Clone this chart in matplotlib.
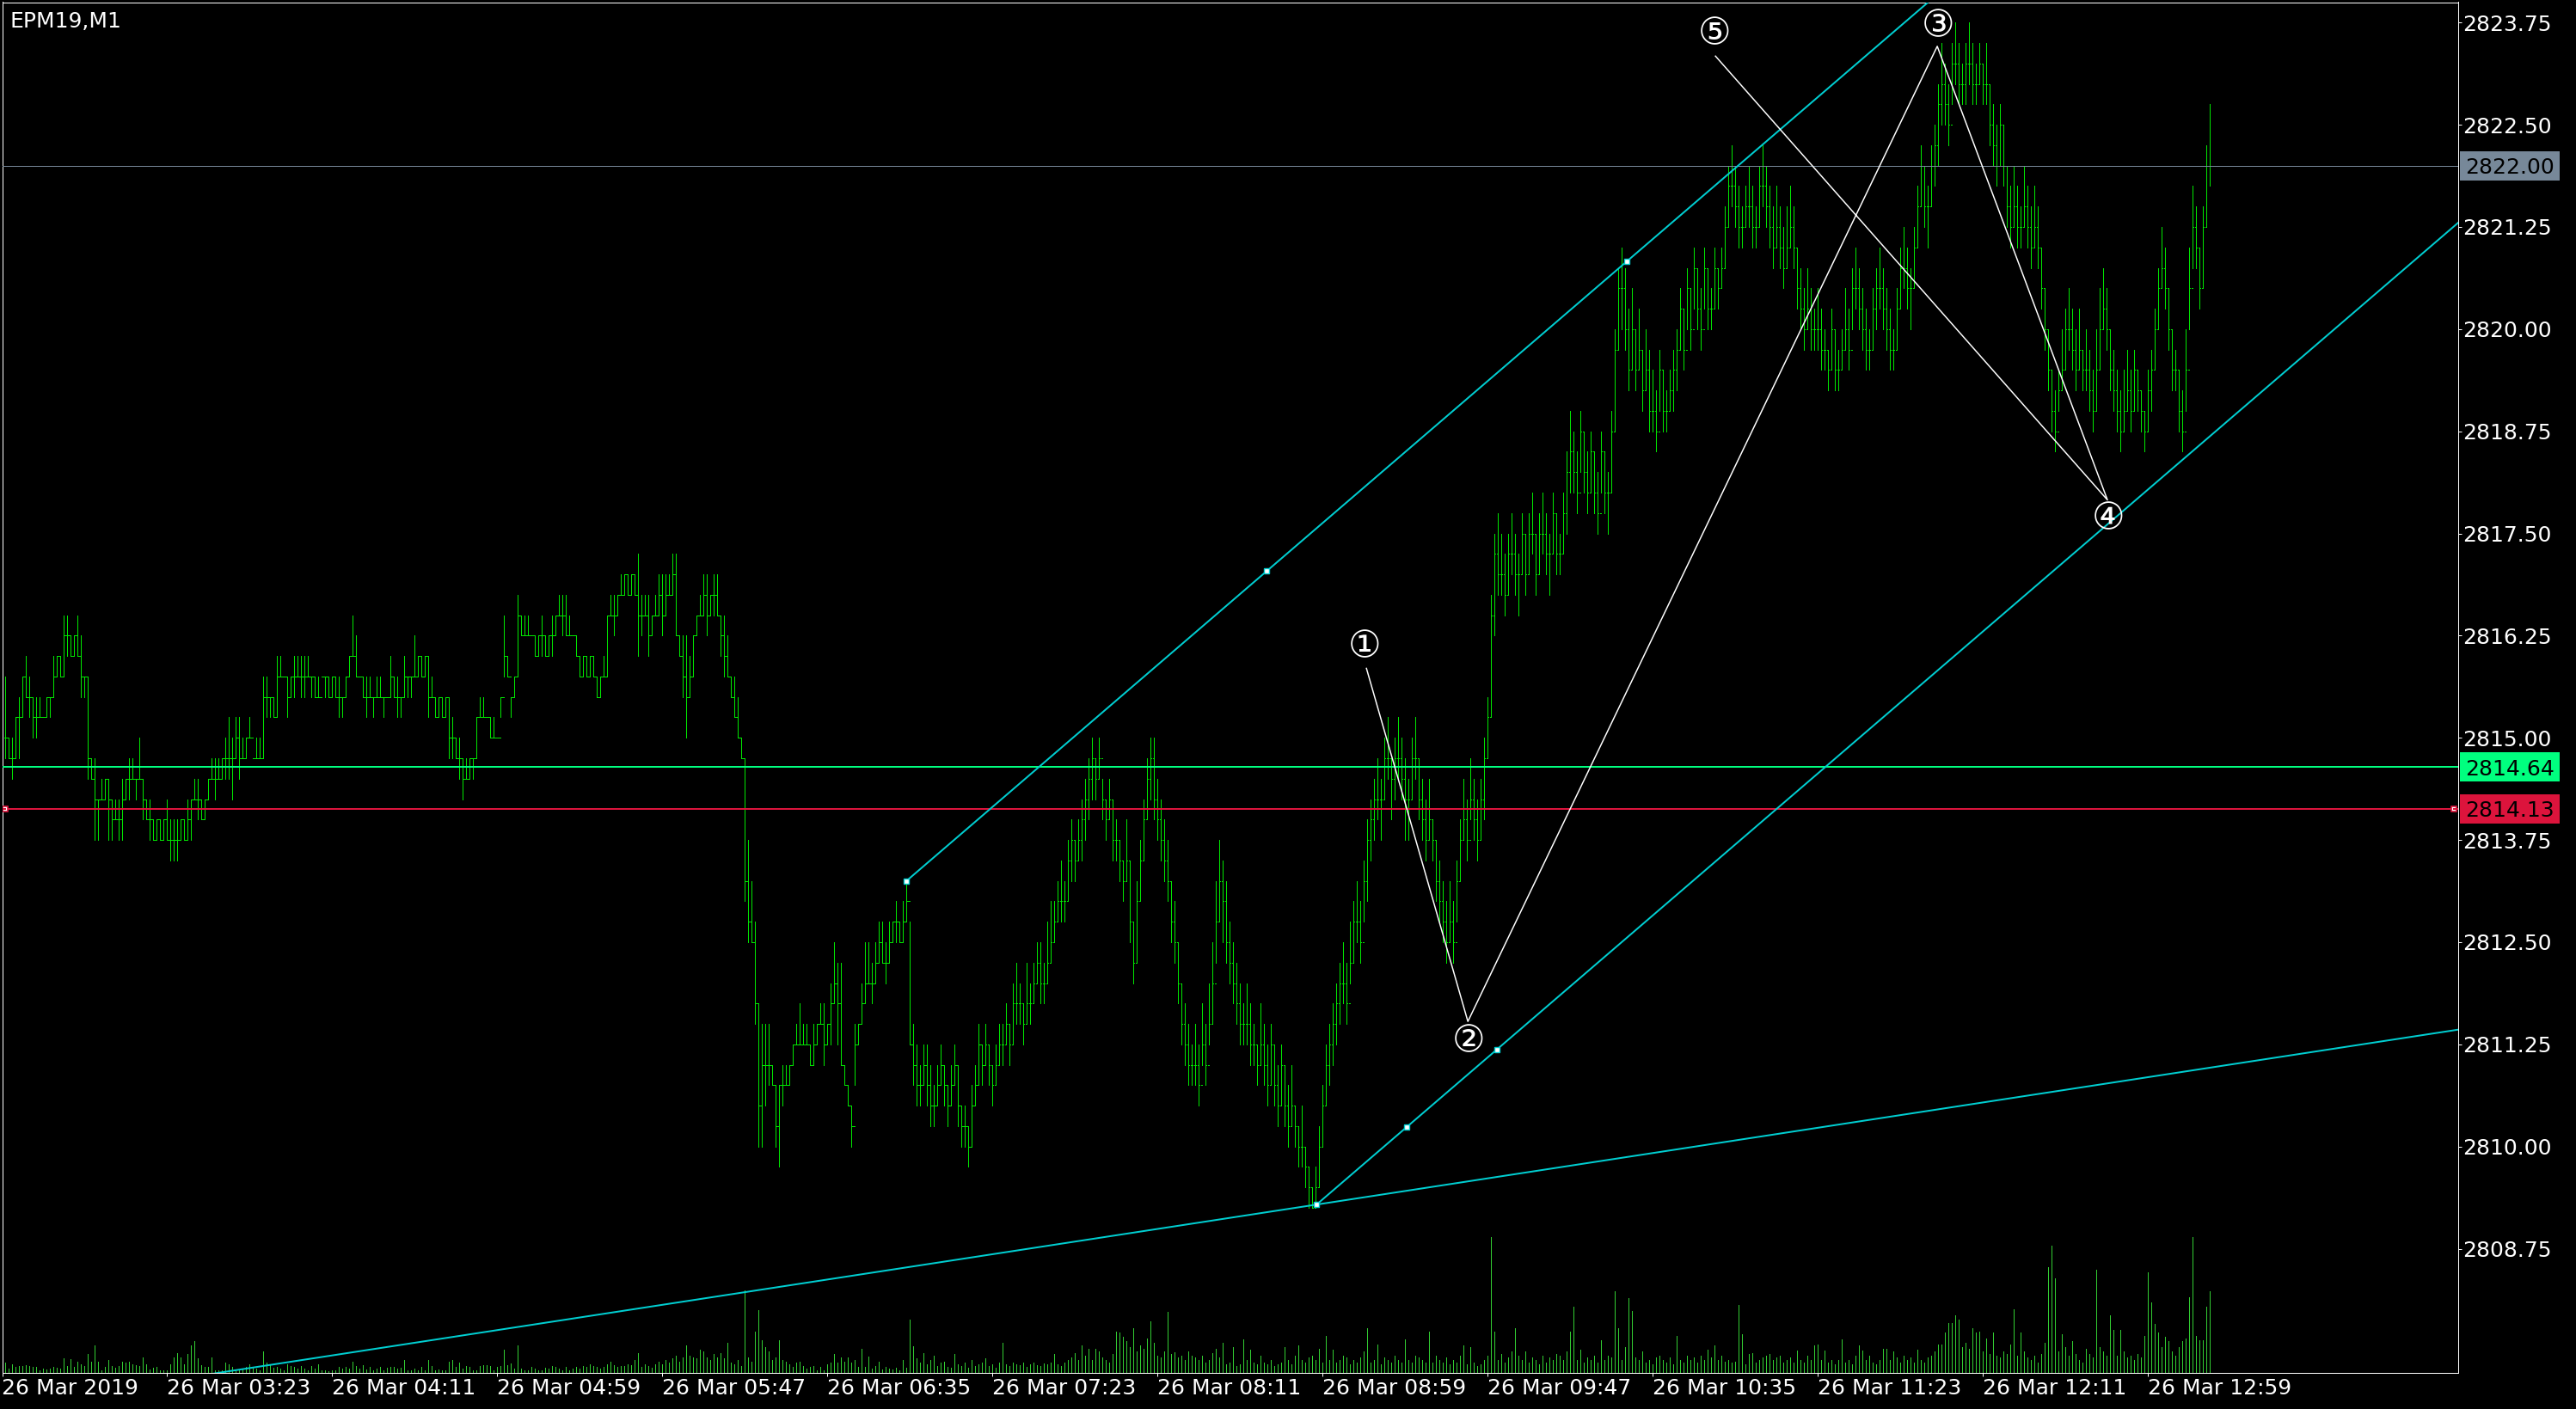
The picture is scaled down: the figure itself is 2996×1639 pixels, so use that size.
import matplotlib
matplotlib.use("Agg")
import matplotlib.pyplot as plt
import numpy as np
from matplotlib.patches import Rectangle
from matplotlib.transforms import blended_transform_factory

# ---------------- data (prices in ticks of 0.25 above 2800) ----------------
SYMBOL = "EPM19,M1"
BASE, TICK = 2800.0, 0.25
OPEN0 = 60
HIGH_T = [
63,60,60,61,62,63,64,63,62,62, 62,61,62,62,64,64,64,66,66,65, 65,66,65,63,63,59,59,57,58,58,
58,57,57,57,58,58,59,59,58,60, 58,57,57,56,56,56,56,57,56,56, 56,56,56,57,57,58,58,57,57,58,
59,59,59,59,60,61,60,61,61,60, 60,61,59,60,60,63,63,62,62,64, 64,63,63,63,64,64,64,64,64,63,
63,63,63,63,63,63,63,63,62,63, 64,66,65,63,63,63,63,62,63,63, 62,62,64,63,63,62,64,63,63,65,
64,64,64,64,63,62,62,62,62,62, 61,60,60,59,59,59,59,61,62,62, 61,61,61,60,62,66,64,62,63,67,
66,66,66,65,65,65,66,65,65,66, 66,67,67,67,66,65,65,64,64,64, 64,64,63,63,64,66,67,67,67,68,
68,68,68,68,69,67,67,67,66,67, 68,68,68,68,69,69,65,65,65,64, 65,66,67,68,68,67,68,68,66,66,
65,63,63,62,60,59,55,53,51,47, 46,46,46,44,43,43,44,44,44,45, 46,47,46,46,45,46,46,47,47,46,
48,50,49,49,44,43,42,46,46,48, 50,50,49,50,51,51,50,51,51,52, 51,52,53,51,46,45,44,45,45,44,
43,44,45,44,43,44,45,44,42,42, 41,43,44,46,45,46,45,44,45,46, 46,47,46,48,49,48,47,49,48,49,
50,50,49,51,52,52,53,54,53,55, 56,55,56,57,58,59,60,59,60,58, 57,58,57,56,55,54,56,54,51,53,
55,57,59,60,60,58,57,56,55,53, 52,50,48,47,46,45,46,45,47,46, 48,50,53,55,54,53,51,50,49,48,
47,48,47,46,45,47,46,45,46,45, 44,45,44,43,44,42,41,42,40,39, 38,39,41,43,45,46,47,48,49,50,
49,51,52,53,52,54,56,57,58,59, 58,60,61,59,60,61,60,59,58,60, 61,59,58,57,58,56,55,54,53,52,
53,52,54,56,58,57,59,58,57,58, 60,62,67,70,71,70,69,70,71,70, 69,71,70,71,72,70,71,72,71,70,
72,71,70,72,74,76,75,74,76,75, 74,75,74,73,75,74,73,76,80,83, 84,83,81,82,80,81,79,80,79,78,
77,79,78,77,78,79,80,82,81,83, 82,84,83,82,84,83,82,84,83,84, 86,88,89,88,87,86,87,88,87,86,
88,89,88,87,86,87,86,85,86,87, 86,84,83,82,83,82,81,82,81,80, 79,81,80,79,80,82,81,83,84,83,
82,81,80,82,83,84,83,82,81,80, 82,84,85,84,83,85,87,89,88,87, 89,90,92,94,93,92,94,95,94,93,
94,95,94,93,94,93,94,92,91,90, 91,90,88,87,88,87,86,88,87,86, 87,86,84,82,80,78,77,78,80,81,
82,81,80,81,79,80,79,78,80,82, 83,82,80,79,78,77,78,79,78,79, 78,77,76,78,79,81,83,85,84,82,
80,79,78,77,80,84,87,86,84,86, 89,91]
LOW_T = [
59,59,58,59,59,61,62,61,60,60, 61,61,61,61,62,63,63,63,64,64, 64,64,62,62,58,58,55,55,57,57,
55,55,56,55,55,57,57,58,57,58, 56,56,55,55,55,55,55,55,54,54, 54,55,55,55,55,57,56,56,56,57,
58,57,58,58,58,58,57,59,58,59, 59,60,59,59,59,59,61,61,61,61, 63,63,61,62,62,63,62,62,63,62,
62,62,63,62,62,62,62,61,61,62, 63,64,63,63,62,61,62,61,62,62, 61,62,62,62,61,61,62,62,62,63,
63,63,63,61,62,61,61,61,61,59, 59,59,58,57,58,58,58,59,61,61, 61,60,60,60,61,63,63,61,62,63,
65,65,65,65,64,64,64,64,64,64, 65,66,65,65,65,65,64,63,63,63, 63,63,62,62,63,63,66,65,66,67,
67,67,67,67,64,65,66,64,65,66, 66,65,66,67,67,65,64,62,60,62, 63,65,66,66,65,66,66,66,64,63,
63,62,61,60,59,52,50,50,46,40, 40,42,43,43,40,39,42,43,43,44, 45,45,45,45,44,44,45,46,44,45,
45,47,45,44,43,42,40,43,45,46, 47,48,47,48,49,49,48,49,50,50, 50,50,51,45,43,42,42,43,42,41,
41,42,43,42,41,42,43,41,40,40, 39,40,42,43,43,44,43,42,43,44, 44,45,44,45,46,46,45,46,46,47,
48,47,47,48,49,50,51,51,51,52, 53,53,54,54,55,56,57,57,58,56, 55,56,54,54,53,52,53,50,48,49,
52,54,56,57,56,55,54,53,52,50, 49,47,45,44,43,43,43,42,44,43, 45,46,49,51,50,49,48,47,46,45,
45,45,44,44,43,44,43,42,43,42, 41,42,41,40,41,40,39,39,38,37, 37,37,38,40,42,43,44,45,46,47,
46,48,49,50,49,51,52,54,55,56, 55,57,58,56,57,58,57,55,55,57, 58,56,55,54,55,54,52,51,50,49,
50,49,51,53,55,54,56,55,54,55, 56,59,61,65,67,67,66,67,68,67, 66,68,67,68,69,67,68,69,68,67,
69,68,68,69,70,72,72,71,73,72, 71,72,71,70,72,71,70,72,75,79, 80,79,77,78,77,78,76,77,75,75,
74,76,75,75,76,76,77,79,78,80, 79,81,80,79,81,80,80,81,81,82, 83,85,86,85,84,84,85,85,84,84,
85,86,85,84,83,84,83,82,83,84, 83,81,80,79,80,79,79,79,78,78, 77,78,77,77,78,79,78,80,81,80,
79,78,78,79,80,81,80,79,78,78, 79,81,82,81,80,82,84,86,85,84, 86,87,88,90,90,89,91,92,91,91,
91,92,91,91,92,91,91,89,88,87, 88,87,85,84,85,84,84,85,84,83, 84,83,81,79,77,75,74,76,77,78,
79,78,77,78,77,77,76,75,76,78, 80,79,77,76,75,74,75,76,75,76, 76,75,74,75,76,78,80,82,81,79,
77,77,75,74,76,80,83,83,81,82, 85,87]
CLOSE_T = [
60,59,59,61,61,63,62,62,61,61, 61,61,62,62,63,64,63,65,65,64, 65,64,63,63,59,58,57,57,57,58,
57,56,56,56,57,58,58,58,58,58, 57,56,56,55,56,55,56,55,55,55, 55,56,55,56,57,57,57,56,57,58,
58,58,58,59,59,59,59,60,59,59, 60,60,59,59,59,62,62,62,61,63, 63,63,62,63,63,63,63,63,63,63,
62,62,63,63,62,63,62,62,62,63, 64,64,63,63,62,62,62,62,62,62, 62,62,63,62,62,62,63,63,63,63,
64,63,64,62,62,61,62,61,62,60, 60,59,59,58,58,59,59,61,61,61, 61,60,60,60,62,64,63,62,63,66,
65,65,65,65,64,65,65,64,65,65, 66,66,66,65,65,65,64,63,64,63, 64,63,62,63,63,66,66,66,67,67,
68,67,68,67,66,66,66,65,66,66, 67,66,67,67,68,65,64,63,62,63, 65,66,66,67,66,67,67,66,65,64,
63,62,61,60,59,53,51,50,47,42, 44,44,44,43,41,43,43,43,44,45, 45,45,45,45,44,45,46,46,45,46,
47,48,47,44,43,42,41,45,46,47, 48,48,48,49,50,49,49,50,51,51, 50,51,52,45,44,43,43,44,43,42,
42,43,44,43,42,43,44,42,41,41, 40,42,43,45,44,45,44,43,44,45, 45,46,45,47,47,47,46,47,47,48,
49,48,48,49,50,51,52,52,52,54, 55,54,55,56,57,58,59,58,59,57, 56,57,55,55,54,53,54,51,49,52,
54,56,58,59,57,56,55,54,53,51, 50,48,46,45,44,44,44,43,45,44, 46,48,51,53,52,50,49,48,47,46,
46,46,45,45,44,45,44,43,45,43, 42,44,42,41,42,41,40,40,39,38, 37,38,40,42,44,45,46,47,48,48,
47,49,51,51,50,53,55,56,57,57, 57,59,59,58,59,59,58,57,57,59, 59,57,56,55,56,55,53,52,51,50,
51,50,53,55,56,55,57,56,55,57, 59,61,66,69,68,68,67,69,69,68, 68,70,68,70,70,68,70,70,69,69,
71,69,69,71,73,74,73,72,75,73, 72,74,72,71,74,72,72,75,79,82, 82,80,78,80,78,79,77,78,76,76,
75,78,76,76,77,78,79,81,79,82, 80,83,81,80,83,81,81,83,82,83, 85,87,87,86,85,85,86,86,85,85,
87,87,86,85,84,85,84,83,84,85, 84,82,81,80,81,80,80,80,79,79, 78,80,78,78,79,80,79,82,82,81,
80,79,79,81,82,82,81,80,79,79, 81,83,83,82,82,84,86,88,86,86, 88,89,91,92,91,90,93,93,92,92,
93,93,92,92,93,92,92,90,89,88, 90,88,86,85,86,85,85,86,85,84, 85,84,82,80,78,76,75,77,78,80,
80,79,78,79,78,78,77,76,78,80, 81,80,78,77,76,75,76,77,76,78, 77,76,75,77,78,80,82,83,82,80,
78,78,76,75,78,82,85,84,82,85, 88,88]
VOLUME = [
12,5,10,7,8,8,9,8,7,7, 3,5,4,5,7,6,5,17,8,16, 7,13,10,8,22,13,32,13,3,7,
15,8,6,8,13,12,13,10,9,8, 18,10,4,6,7,3,3,3,10,18, 23,18,10,22,32,37,17,9,7,7,
18,3,3,3,12,10,7,3,4,5, 7,10,7,5,3,25,12,9,6,7, 5,3,10,8,7,5,8,5,3,8,
5,10,3,3,2,3,3,7,5,7, 5,13,8,5,9,4,7,3,5,7, 3,6,7,7,5,6,15,3,3,5,
3,7,3,15,8,3,4,3,3,13, 15,7,12,5,8,7,3,3,8,9, 9,8,3,7,8,27,9,11,5,32,
5,3,3,7,5,3,3,6,5,8, 7,5,3,7,3,5,7,5,8,7, 10,8,7,5,7,10,13,9,7,8,
8,10,9,15,23,7,10,8,6,10, 13,10,15,12,17,20,13,18,32,20, 18,17,27,25,18,15,22,18,23,17,
35,12,10,15,8,96,18,13,48,73, 38,30,25,15,18,38,15,13,10,7, 12,13,8,5,7,8,3,7,3,10,
12,22,12,18,13,18,12,15,7,28, 7,19,5,8,13,4,7,5,4,6, 3,15,6,62,31,17,12,23,10,15,
20,8,12,13,7,6,22,10,8,12, 6,15,8,10,12,17,8,10,6,12, 35,10,8,12,10,9,12,7,10,12,
9,8,11,10,12,22,10,8,12,15, 18,23,15,32,20,28,15,28,25,18, 15,12,22,48,47,42,37,30,52,25,
32,28,40,60,35,20,18,25,71,22, 24,18,20,15,25,20,18,15,20,12, 15,23,28,18,35,10,12,30,8,10,
39,15,27,12,10,20,12,10,15,8, 10,12,30,15,10,20,32,15,12,18, 20,15,28,12,43,15,27,12,15,20,
18,10,15,12,18,25,52,12,15,33, 10,18,15,12,20,15,12,39,15,12, 20,18,15,12,48,12,20,15,12,18,
10,15,12,20,32,10,30,12,8,10, 15,20,158,48,15,22,12,18,25,52, 20,15,25,12,18,15,10,20,12,18,
15,22,20,15,25,48,77,15,27,12, 18,15,20,12,38,15,20,18,95,52, 15,30,87,72,18,15,25,12,15,10,
18,20,15,12,18,10,43,15,12,20, 15,18,12,20,15,27,18,32,15,20, 13,15,12,13,79,45,10,22,23,12,
15,18,20,22,15,18,20,12,15,18, 12,26,15,12,20,15,32,33,15,26, 12,15,10,15,39,12,15,10,20,32,
26,15,20,12,10,15,28,28,15,25, 18,12,20,15,18,12,27,15,12,18, 20,25,33,33,47,58,58,67,62,30,
35,28,52,47,48,25,40,22,47,20, 18,25,22,33,74,20,47,25,18,15, 20,12,22,35,123,148,110,25,45,30,
20,37,22,15,12,28,22,18,120,30, 25,20,67,50,20,50,25,18,20,15, 22,18,43,117,82,57,47,30,42,37,
25,20,30,37,40,88,158,43,38,38, 77,95]

TIME_TICK_BARS = [-1, 47, 95, 143, 191, 239, 287, 335, 383, 431, 479, 527, 575, 623]
TIME_LABELS = ["26 Mar 2019", "26 Mar 03:23", "26 Mar 04:11", "26 Mar 04:59", "26 Mar 05:47",
               "26 Mar 06:35", "26 Mar 07:23", "26 Mar 08:11", "26 Mar 08:59", "26 Mar 09:47",
               "26 Mar 10:35", "26 Mar 11:23", "26 Mar 12:11", "26 Mar 12:59"]
PRICE_TICKS = [2808.75, 2810.00, 2811.25, 2812.50, 2813.75, 2815.00, 2816.25,
               2817.50, 2818.75, 2820.00, 2821.25, 2822.50, 2823.75]
BID_PRICE = 2822.00
GREEN_LEVEL = 2814.64
RED_LEVEL = 2814.13
RED_ENDS = [0.0, 712.1]

CHANNEL_SLOPE = 0.03618            # price per bar
UPPER_ANCHOR = (262.0, 2813.25)
LOWER_ANCHOR = (381.25, 2809.29)
SHALLOW_SLOPE = 0.006446
CHANNEL_MARKS_X = [262.0, 366.75, 471.5, 381.25, 407.5, 433.75]
CHANNEL_MARKS_Y = [2813.25, 2817.04, 2820.83, 2809.29, 2810.24, 2811.19]

WAVE_X = [395.75, 425.25, 561.75, 611.25, 497.25]
WAVE_Y = [2815.85, 2811.53, 2823.46, 2817.91, 2823.34]
WAVE_LABELS = ["\u2460", "\u2461", "\u2462", "\u2463", "\u2464"]
WAVE_LABEL_X = [395.25, 425.5, 562.0, 611.5, 497.0]
WAVE_LABEL_Y = [2816.12, 2811.29, 2823.71, 2817.68, 2823.61]

# ---------------- layout ----------------
W, H, DPI = 2996, 1639, 100
AX_L, AX_T, AX_R, AX_B = 2.5, 2.5, 2858.5, 1596.5
X0, X1 = -0.875, 713.125
Y0, Y1 = 2807.236, 2824.0
PX = 72.0 / DPI

BAR_C = "#00e600"
VOL_C = "#32cd32"
CYAN = "#00ced1"
FS = 18

fig = plt.figure(figsize=(W / DPI, H / DPI), dpi=DPI, facecolor="black")
rect = [AX_L / W, 1 - AX_B / H, (AX_R - AX_L) / W, (AX_B - AX_T) / H]

axv = fig.add_axes(rect)
axv.set_facecolor("black")
axv.set_xlim(X0, X1)
axv.axis("off")

ax = fig.add_axes(rect)
ax.set_facecolor("none")
ax.set_xlim(X0, X1)
ax.set_ylim(Y0, Y1)

hi = BASE + TICK * np.array(HIGH_T)
lo = BASE + TICK * np.array(LOW_T)
cl = BASE + TICK * np.array(CLOSE_T)
op = np.r_[BASE + TICK * OPEN0, cl[:-1]]
idx = np.arange(len(cl))
vol = np.array(VOLUME, dtype=float)

# volumes
axv.set_ylim(0, vol.max() / 0.099)
axv.vlines(idx, 0, vol, colors=VOL_C, lw=PX, antialiased=False)

# price bars
ax.vlines(idx, lo, hi, colors=BAR_C, lw=PX, antialiased=False, zorder=2)
ax.hlines(op, idx - 0.3, idx, colors=BAR_C, lw=PX, antialiased=False, zorder=2)
ax.hlines(cl, idx, idx + 0.3, colors=BAR_C, lw=PX, antialiased=False, zorder=2)

# horizontal levels
ax.axhline(BID_PRICE, color="#778899", lw=PX, zorder=3)
ax.axhline(GREEN_LEVEL, color="#00ff7f", lw=2 * PX, zorder=3)
ax.plot(RED_ENDS, [RED_LEVEL, RED_LEVEL], color="#dc143c", lw=2 * PX, zorder=3,
        marker="s", ms=4.5, mfc="white", mec="#dc143c", mew=1.2)
ax.plot([X0, RED_ENDS[0]], [RED_LEVEL, RED_LEVEL], color="#dc143c", lw=2 * PX, zorder=3)
ax.plot([RED_ENDS[1], X1], [RED_LEVEL, RED_LEVEL], color="#dc143c", lw=2 * PX, zorder=3)

# channel
xe = X1 + 2
ax.plot([UPPER_ANCHOR[0], xe], [UPPER_ANCHOR[1], UPPER_ANCHOR[1] + CHANNEL_SLOPE * (xe - UPPER_ANCHOR[0])],
        color=CYAN, lw=2 * PX, zorder=4)
ax.plot([LOWER_ANCHOR[0], xe], [LOWER_ANCHOR[1], LOWER_ANCHOR[1] + CHANNEL_SLOPE * (xe - LOWER_ANCHOR[0])],
        color=CYAN, lw=2 * PX, zorder=4)
xs = X0 - 2
ax.plot([xs, xe], [LOWER_ANCHOR[1] + SHALLOW_SLOPE * (xs - LOWER_ANCHOR[0]),
                   LOWER_ANCHOR[1] + SHALLOW_SLOPE * (xe - LOWER_ANCHOR[0])],
        color=CYAN, lw=2 * PX, zorder=4)
ax.plot(CHANNEL_MARKS_X, CHANNEL_MARKS_Y, ls="none", marker="s", ms=4.0,
        mfc="white", mec=CYAN, mew=1.0, zorder=5)

# wave lines
ax.plot(WAVE_X, WAVE_Y, color="white", lw=1.5 * PX, zorder=5)
for lx, ly, lab in zip(WAVE_LABEL_X, WAVE_LABEL_Y, WAVE_LABELS):
    ax.text(lx, ly, lab, color="white", fontsize=31, ha="center", va="center",
            family=["DejaVu Sans", "Noto Sans CJK JP"], zorder=6)

# spines & ticks
for s in ax.spines.values():
    s.set_color("white")
    s.set_linewidth(PX)
ax.yaxis.tick_right()
ax.set_yticks(PRICE_TICKS)
ax.set_yticklabels([f"{v:.2f}" for v in PRICE_TICKS])
ax.tick_params(axis="y", colors="white", direction="out", length=4 * PX, width=PX,
               labelsize=FS, pad=1.2)
ax.set_xticks(TIME_TICK_BARS)
ax.set_xticklabels(TIME_LABELS)
ax.tick_params(axis="x", colors="white", direction="out", length=4 * PX, width=PX,
               labelsize=FS, pad=1.5)
for t in ax.get_xticklabels():
    t.set_horizontalalignment("left")

# title
ax.text((11.5 - AX_L) / (AX_R - AX_L), 1 - (32.3 - AX_T) / (AX_B - AX_T), SYMBOL,
        transform=ax.transAxes, color="white", fontsize=FS, va="baseline", ha="left")

# price boxes on the axis
ppu = (AX_B - AX_T) / (Y1 - Y0)
trans = blended_transform_factory(fig.transFigure, ax.transData)
box_h = 34 / ppu
cap_half = 0.365 * FS * DPI / 72 / ppu
for price, col in [(BID_PRICE, "#778899"), (GREEN_LEVEL, "#00ff7f"), (RED_LEVEL, "#dc143c")]:
    fig.add_artist(Rectangle((2861 / W, price - box_h / 2), 116 / W, box_h,
                             transform=trans, facecolor=col, edgecolor="none", zorder=10))
    fig.text(2919 / W, price - cap_half, f"{price:.2f}", transform=trans, color="black",
             fontsize=FS, ha="center", va="baseline", zorder=11)

fig.savefig("out.png", dpi=DPI, facecolor="black")
